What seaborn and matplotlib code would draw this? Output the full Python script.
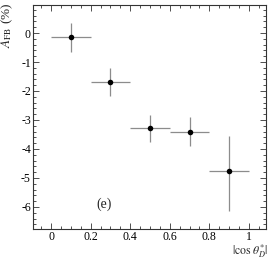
import numpy as np
import pandas as pd
import matplotlib
matplotlib.use("Agg")
import matplotlib.pyplot as plt
from matplotlib.ticker import MultipleLocator, FormatStrFormatter
import seaborn as sns

# data
cos_bin = [0.1, 0.3, 0.5, 0.7, 0.9]
bin_half = [0.1, 0.1, 0.1, 0.1, 0.1]
afb = [-0.15, -1.69, -3.28, -3.40, -4.76]
err_up = [0.49, 0.48, 0.45, 0.50, 1.21]
err_down = [0.49, 0.48, 0.48, 0.50, 1.37]

df = pd.DataFrame({"cos": cos_bin, "afb": afb})

sns.set_style("ticks")
plt.rcParams["font.family"] = ["Liberation Serif", "DejaVu Serif"]
plt.rcParams["mathtext.fontset"] = "stix"
plt.rcParams["axes.unicode_minus"] = False

fig = plt.figure(figsize=(2.74, 2.61), dpi=100)
ax = fig.add_axes([33 / 274, 1 - 229 / 261, 233 / 274, 224 / 261])

ax.errorbar(cos_bin, afb, xerr=bin_half, yerr=[err_down, err_up],
            fmt="none", ecolor="#8c8c8c", elinewidth=0.9, capsize=0, zorder=2)
sns.scatterplot(data=df, x="cos", y="afb", ax=ax, color="black",
                s=16, edgecolor="black", linewidth=0, zorder=3, legend=False)

ax.set_xlim(-0.091, 1.086)
ax.set_ylim(-6.76, 0.966)
ax.set_xlabel("")
ax.set_ylabel("")

ax.xaxis.set_major_locator(MultipleLocator(0.2))
ax.xaxis.set_minor_locator(MultipleLocator(0.05))
ax.yaxis.set_major_locator(MultipleLocator(1))
ax.yaxis.set_minor_locator(MultipleLocator(0.2))
ax.xaxis.set_major_formatter(FormatStrFormatter("%g"))
ax.yaxis.set_major_formatter(FormatStrFormatter("%g"))

ax.tick_params(which="both", direction="in", top=True, right=True,
               width=0.6, colors="#333333", labelcolor="black", labelsize=8.5)
ax.tick_params(which="major", length=4.5)
ax.tick_params(which="minor", length=2.2)
ax.tick_params(axis="y", pad=1.5)
ax.tick_params(axis="x", pad=1.5)
for s in ax.spines.values():
    s.set_linewidth(0.8)
    s.set_color("#333333")

ax.text(0.27, -5.9, "(e)", fontsize=10, ha="center", va="center")

fig.text(268 / 274, 1 - 260.5 / 261, r"$|\cos\,\theta^{*}_{D}|$",
         fontsize=8.5, ha="right", va="bottom")
fig.text(7.5 / 274, 1 - 3 / 261, r"$A_{\rm FB}$ (%)", fontsize=9.5,
         rotation=90, ha="center", va="top")

fig.savefig("out.png", dpi=100)
